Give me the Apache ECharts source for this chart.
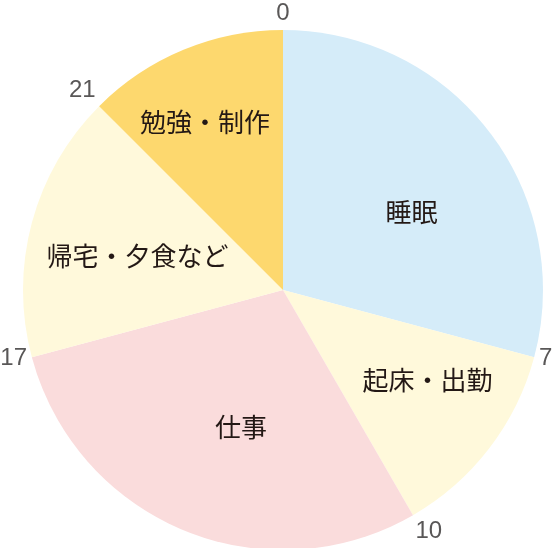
<!DOCTYPE html>
<html><head><meta charset="utf-8">
<script src="https://cdn.jsdelivr.net/npm/echarts@6/dist/echarts.min.js"></script>
<style>html,body{margin:0;padding:0;background:#fff}#c{width:554px;height:548px}</style>
</head><body><div id="c"></div>
<script>
const activities = ['睡眠', '起床・出勤', '仕事', '帰宅・夕食など', '勉強・制作'];
const hours = [7, 3, 7, 4, 3];
const boundaryTicks = [0, 7, 10, 17, 21];

// styling (not data)
const colors = ['#d5ecf9', '#fff9db', '#fadcdc', '#fff9db', '#fdd86e'];
const labelNudge = [[0, 21], [16, -8], [20, -13], [11, 8], [-16, -18]];

const chart = echarts.init(document.getElementById('c'));
const C = [283, 290], R = 260;
chart.setOption({
  animation: false,
  polar: { center: C, radius: R },
  angleAxis: {
    type: 'value', min: 0, max: 24, interval: 1, startAngle: 90, clockwise: true,
    axisLine: { show: false }, axisTick: { show: false }, splitLine: { show: false },
    axisLabel: {
      margin: 5, color: '#595757', fontSize: 24, fontFamily: 'Liberation Sans, Arial, sans-serif',
      formatter: v => boundaryTicks.includes(v) ? String(v) : ''
    }
  },
  radiusAxis: { show: false, min: 0, max: 1 },
  series: [
    {
      type: 'pie', center: C, radius: [0, R], startAngle: 90, clockwise: true,
      silent: true, label: { show: false }, labelLine: { show: false },
      data: activities.map((n, i) => ({ name: n, value: hours[i], itemStyle: { color: colors[i] } }))
    },
    {
      type: 'pie', center: C, radius: [0, 318], startAngle: 90, clockwise: true, silent: true, z: 5,
      itemStyle: { color: 'transparent' },
      label: { show: true, position: 'inside', color: '#231815', fontSize: 26,
        fontFamily: 'Noto Sans CJK JP, sans-serif', formatter: '{b}' },
      labelLine: { show: false },
      data: activities.map((n, i) => ({ name: n, value: hours[i], label: { offset: labelNudge[i] } }))
    }
  ]
});
</script></body></html>
